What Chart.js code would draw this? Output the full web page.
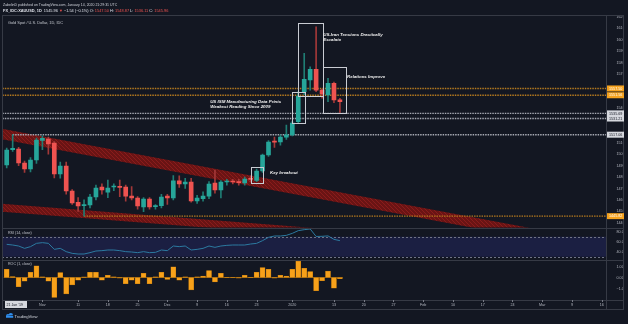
<!DOCTYPE html>
<html>
<head>
<meta charset="utf-8">
<script src="https://cdn.jsdelivr.net/npm/chart.js@4.4.1/dist/chart.umd.min.js"></script>
<style>
  html, body { margin: 0; padding: 0; background: #131722; }
  #wrap { position: relative; width: 628px; height: 324px; overflow: hidden; }
  canvas { display: block; }
</style>
</head>
<body>
<div id="wrap"><canvas id="c" width="628" height="324"></canvas></div>
<script>
// ---- daily sessions (bar index = position in this list) ----
const sessions = ['Oct 24','Oct 25','Oct 28','Oct 29','Oct 30','Oct 31','Nov 1','Nov 4','Nov 5','Nov 6',
  'Nov 7','Nov 8','Nov 11','Nov 12','Nov 13','Nov 14','Nov 15','Nov 18','Nov 19','Nov 20',
  'Nov 21','Nov 22','Nov 25','Nov 26','Nov 27','Nov 28','Nov 29','Dec 2','Dec 3','Dec 4',
  'Dec 5','Dec 6','Dec 9','Dec 10','Dec 11','Dec 12','Dec 13','Dec 16','Dec 17','Dec 18',
  'Dec 19','Dec 20','Dec 23','Dec 24','Dec 26','Dec 27','Dec 30','Dec 31','Jan 2','Jan 3',
  'Jan 6','Jan 7','Jan 8','Jan 9','Jan 10','Jan 13','Jan 14'];

// ---- XAU/USD daily OHLC ----
const opens  = [1490.6,1504.0,1504.5,1492.3,1487.1,1494.9,1512.0,1513.3,1509.8,1482.7,
  1489.7,1467.8,1458.0,1455.0,1455.6,1462.6,1471.3,1466.9,1471.3,1472.0,
  1471.3,1463.4,1461.7,1453.8,1460.8,1454.0,1455.0,1463.4,1461.7,1476.6,
  1474.0,1475.7,1459.1,1461.0,1463.4,1474.8,1468.7,1475.7,1476.0,1476.0,
  1474.8,1479.0,1477.0,1485.3,1499.3,1511.5,1510.7,1515.0,1516.8,1528.4,
  1554.7,1564.9,1574.3,1556.1,1551.8,1562.0,1547.50];
const highs  = [1505.4,1517.06,1506.0,1494.0,1497.0,1514.0,1516.0,1515.0,1511.0,1493.2,
  1493.0,1469.0,1462.0,1460.0,1465.0,1473.0,1474.0,1477.4,1474.0,1477.4,
  1473.0,1471.6,1463.0,1462.0,1462.0,1456.0,1465.0,1465.0,1481.2,1481.0,
  1479.0,1479.0,1464.0,1467.0,1476.0,1486.2,1477.0,1478.0,1478.0,1478.0,
  1480.0,1481.0,1487.0,1500.0,1512.0,1515.0,1517.0,1525.5,1529.0,1554.7,
  1588.3,1576.5,1611.5,1557.0,1566.4,1563.0,1548.87];
const lows   = [1488.0,1502.5,1490.0,1484.0,1484.5,1492.0,1504.0,1500.0,1479.2,1479.0,
  1465.0,1456.0,1450.0,1445.82,1453.0,1460.0,1465.0,1462.0,1468.0,1462.8,
  1459.0,1460.0,1452.0,1449.7,1452.0,1452.0,1453.0,1456.0,1460.0,1471.0,
  1470.0,1458.0,1457.0,1459.0,1461.0,1466.0,1461.7,1473.0,1474.0,1473.0,
  1473.0,1476.0,1476.0,1484.0,1498.0,1506.0,1508.0,1513.0,1516.0,1527.0,
  1552.0,1556.1,1554.7,1549.0,1545.9,1545.0,1536.11];
const closes = [1503.7,1505.2,1492.3,1487.1,1494.9,1512.4,1513.8,1508.9,1482.7,1489.7,
  1467.8,1457.3,1454.7,1455.8,1462.6,1470.4,1468.7,1470.4,1471.8,1471.0,
  1463.4,1461.7,1454.7,1460.8,1453.8,1455.0,1462.6,1461.7,1476.6,1473.9,
  1475.7,1459.1,1461.7,1463.4,1473.9,1468.7,1475.7,1476.3,1475.7,1475.0,
  1478.3,1478.0,1485.3,1499.3,1510.7,1510.5,1515.0,1517.0,1527.3,1550.9,
  1565.5,1574.3,1556.1,1552.7,1562.0,1547.50,1545.96];

// ---- RSI (14, close) ----
const rsi = [54.7,53.4,51.4,46.7,50.1,56.7,58.1,56.7,44.7,46.7,
  40.1,36.7,35.4,35.4,38.1,41.4,42.1,43.4,43.4,42.1,
  40.1,39.4,38.1,40.1,38.1,38.7,43.4,42.1,51.4,50.1,
  51.4,43.4,44.7,46.7,51.4,48.7,51.4,52.7,53.4,53.4,
  53.4,55.4,56.7,62.1,68.7,71.4,71.4,72.7,76.7,82.1,
  84.0,85.5,70.5,70.8,71.6,64.7,62.1];

// ---- ROC (1, close), percent ----
const roc = [0.75,0.08,-0.84,-0.33,0.47,1.07,0.06,-0.33,-1.8,0.44,
  -1.5,-0.68,-0.24,0.05,0.47,0.47,-0.24,0.2,0.06,-0.05,
  -0.55,-0.24,-0.55,0.37,-0.55,0.06,0.47,-0.18,0.98,-0.24,
  0.06,-1.14,0.06,0.12,0.62,-0.4,0.37,0.02,0.02,-0.05,
  0.2,0.02,0.47,0.9,0.75,-0.05,0.2,0.12,0.75,1.5,
  0.83,0.53,-1.2,-0.29,0.59,-0.98,-0.1];

// ---- axis ticks ----
const dateTickIndex = [6,12,17,22,27,32,37,42,48,55,60,65,70,75,80,85,90,95,100];
const dateTickText  = ['Nov','11','18','25','Dec','9','16','23','2020','13','20','27','Feb','10','17','24','Mar','9','16'];
const priceTicks = [1620,1610,1600,1590,1580,1570,1540,1510,1500,1490,1480,1470,1460,1450,1440];
const rsiTicks = [80,60,40];
const rocTicks = [1,0,-1];

// ---- horizontal levels: price, first bar, style ----
const levelPrices = [1557.50, 1551.56, 1535.69, 1531.21, 1517.06, 1445.82];
const levelStart  = [-2, -2, -2, -2, 1, 13];
const levelKind   = ['orange','orange','grey','grey','grey','orange'];

// ---- descending channel bands: [bar, price] at both ends of the top edge, band depth in price ----
const channelTop = [[[-2, 1523.5], [101, 1422.7]], [[-2, 1457.2], [101, 1415.5]]];
const channelDepth = [9.2, 7.0];

// ---- event boxes: bar range and price range ----
const boxBars   = [[41.05, 43.15], [48.0, 50.1], [49.0, 53.1], [53.1, 57.1]];
const boxPrices = [[1474.5, 1488.5], [1527.5, 1554.4], [1550.9, 1615.0], [1535.8, 1576.0]];

// ---- event notes: anchor bar, anchor price, lines ----
const noteBars   = [44.25, 34.2, 53.2, 57.2];
const notePrices = [1484.0, 1545.9, 1604.3, 1567.3];
const noteLines  = [['Key breakout'],
  ['US ISM Manufacturing Data Prints', 'Weakest Reading Since 2009'],
  ['US-Iran Tensions Drastically', 'Escalate'],
  ['Relations Improve']];

const FONT = '"Liberation Sans", Arial, sans-serif';
const UP = '#26a69a', DOWN = '#ef5350', UP_WICK = '#1f7d74', DOWN_WICK = '#a33838';
const TXT = '#b2b5be', FRAME = '#363a45';
const isUp = i => closes[i] >= opens[i];

// diagonal hatch used by the channel bands
function makeHatch() {
  const c = document.createElement('canvas');
  c.width = 4; c.height = 4;
  const g = c.getContext('2d');
  g.fillStyle = '#6a1414'; g.fillRect(0, 0, 4, 4);
  g.strokeStyle = '#8a1c1c'; g.lineWidth = 1;
  g.beginPath(); g.moveTo(0, 0); g.lineTo(4, 4); g.moveTo(-1, 3); g.lineTo(1, 5); g.moveTo(3, -1); g.lineTo(5, 1); g.stroke();
  return document.getElementById('c').getContext('2d').createPattern(c, 'repeat');
}
const hatch = makeHatch();
function fmt(v) { return v.toFixed(2).replace('-', '\u2212'); }

const overlay = {
  id: 'overlay',
  beforeDatasetsDraw(chart) {
    const { ctx, scales: { x, yP, yR } } = chart;
    // RSI 70/30 band
    const b70 = yR.getPixelForValue(70), b30 = yR.getPixelForValue(30);
    ctx.save();
    ctx.fillStyle = '#1b1f42';
    ctx.fillRect(x.left, b70, x.right - x.left, b30 - b70);
    ctx.strokeStyle = '#6f7385'; ctx.lineWidth = 1; ctx.setLineDash([2, 2]);
    [b70, b30].forEach(y => { ctx.beginPath(); ctx.moveTo(x.left, Math.round(y) + 0.5); ctx.lineTo(x.right, Math.round(y) + 0.5); ctx.stroke(); });
    ctx.restore();

    // price pane: channel bands and horizontal levels
    ctx.save();
    ctx.beginPath(); ctx.rect(x.left, yP.top, x.right - x.left, yP.bottom - yP.top); ctx.clip();
    channelTop.forEach((seg, k) => {
      const [[i0, p0], [i1, p1]] = seg;
      const d = channelDepth[k];
      ctx.beginPath();
      ctx.moveTo(x.getPixelForValue(i0), yP.getPixelForValue(p0));
      ctx.lineTo(x.getPixelForValue(i1), yP.getPixelForValue(p1));
      ctx.lineTo(x.getPixelForValue(i1), yP.getPixelForValue(p1 - d));
      ctx.lineTo(x.getPixelForValue(i0), yP.getPixelForValue(p0 - d));
      ctx.closePath();
      ctx.fillStyle = hatch; ctx.fill();
    });
    levelPrices.forEach((p, k) => {
      const y = yP.getPixelForValue(p);
      ctx.strokeStyle = levelKind[k] === 'orange' ? '#b57a1e' : '#a7aab3';
      ctx.lineWidth = 1.4; ctx.setLineDash([1.5, 1]);
      ctx.beginPath(); ctx.moveTo(x.getPixelForValue(levelStart[k]), y); ctx.lineTo(x.right, y); ctx.stroke();
    });
    ctx.restore();
  },
  afterDatasetsDraw(chart) {
    const { ctx, scales: { x, yP } } = chart;
    ctx.save();
    ctx.beginPath(); ctx.rect(x.left, yP.top, x.right - x.left, yP.bottom - yP.top); ctx.clip();
    ctx.strokeStyle = '#c9ccd3'; ctx.lineWidth = 1;
    boxBars.forEach((bb, k) => {
      const x0 = Math.round(x.getPixelForValue(bb[0])) + 0.5, x1 = Math.round(x.getPixelForValue(bb[1])) + 0.5;
      const y0 = Math.round(yP.getPixelForValue(boxPrices[k][1])) + 0.5, y1 = Math.round(yP.getPixelForValue(boxPrices[k][0])) + 0.5;
      ctx.strokeRect(x0, y0, x1 - x0, y1 - y0);
    });
    ctx.fillStyle = '#eeeeee';
    ctx.font = 'italic bold 4.4px ' + FONT;
    ctx.textBaseline = 'middle'; ctx.textAlign = 'left';
    noteLines.forEach((lines, k) => {
      const nx = x.getPixelForValue(noteBars[k]), ny = yP.getPixelForValue(notePrices[k]);
      lines.forEach((t, j) => ctx.fillText(t, nx, ny + j * 4.6));
    });
    ctx.restore();
  },
  afterDraw(chart) {
    const { ctx, scales: { x, yP, yR, yC } } = chart;
    ctx.save();
    // frame and pane dividers
    ctx.strokeStyle = FRAME; ctx.lineWidth = 1;
    ctx.strokeRect(2.5, 15.5, 621, 294);
    [yP.bottom, yR.bottom, yC.bottom].forEach(y => { ctx.beginPath(); ctx.moveTo(2, Math.round(y) + 0.5); ctx.lineTo(624, Math.round(y) + 0.5); ctx.stroke(); });
    ctx.beginPath(); ctx.moveTo(Math.round(x.right) + 0.5, 15); ctx.lineTo(Math.round(x.right) + 0.5, 310); ctx.stroke();

    // time scale: tick marks and labels
    ctx.strokeStyle = '#787b86';
    ctx.fillStyle = TXT; ctx.font = '3.7px ' + FONT;
    ctx.textAlign = 'center'; ctx.textBaseline = 'middle';
    dateTickIndex.forEach((i, k) => {
      const px = x.getPixelForValue(i);
      const sx = Math.round(px) + 0.5;
      ctx.beginPath(); ctx.moveTo(sx, yC.bottom + 0.5); ctx.lineTo(sx, yC.bottom + 2.5); ctx.stroke();
      ctx.fillText(dateTickText[k], px, yC.bottom + 5.2);
    });

    // level labels on the price scale
    ctx.font = '3.7px ' + FONT; ctx.textBaseline = 'middle'; ctx.textAlign = 'left';
    levelPrices.forEach((p, k) => {
      const y = yP.getPixelForValue(p);
      const orange = levelKind[k] === 'orange';
      ctx.fillStyle = orange ? '#f5a21e' : '#d6d8de';
      ctx.fillRect(x.right + 1, y - 3, 17, 6);
      ctx.fillStyle = orange ? '#ffffff' : '#131722';
      ctx.fillText(fmt(p), x.right + 3, y + 0.2);
    });

    // pane captions
    ctx.fillStyle = '#c3c6ce';
    ctx.font = '3.9px ' + FONT;
    ctx.fillText('Gold Spot / U.S. Dollar, 1D, IDC', 8, 23);
    ctx.font = '3.6px ' + FONT;
    ctx.fillText('RSI (14, close)', 8, yR.top + 5.5);
    ctx.fillText('ROC (1, close)', 8, yC.top + 4.5);

    // header
    const last = closes.length - 1;
    const chg = closes[last] - closes[last - 1];
    const pct = chg / closes[last - 1] * 100;
    ctx.fillStyle = '#d1d4dc';
    ctx.font = '3.5px ' + FONT;
    ctx.fillText('ZabelinD published on TradingView.com, January 14, 2020 21:29:31 UTC', 3, 5);
    const parts = [
      ['FX_IDC:XAUUSD, 1D  ', '#e0e3eb', 'bold '],
      [closes[last].toFixed(2) + ' ', '#e0e3eb', ''],
      [chg < 0 ? '\u25BC ' : '\u25B2 ', chg < 0 ? DOWN : UP, ''],
      [fmt(chg) + ' (' + fmt(pct).replace(/(\.\d)\d$/, '$1') + '%) ', '#e0e3eb', ''],
      ['O: ', '#e0e3eb', ''], [opens[last].toFixed(2) + ' ', DOWN, ''],
      ['H: ', '#e0e3eb', ''], [highs[last].toFixed(2) + ' ', DOWN, ''],
      ['L: ', '#e0e3eb', ''], [lows[last].toFixed(2) + ' ', DOWN, ''],
      ['C: ', '#e0e3eb', ''], [closes[last].toFixed(2), DOWN, '']
    ];
    let hx = 3;
    parts.forEach(([t, c, w]) => {
      ctx.font = w + '3.9px ' + FONT; ctx.fillStyle = c;
      ctx.fillText(t, hx, 10.8); hx += ctx.measureText(t).width;
    });

    // crosshair date box on the time scale
    ctx.fillStyle = '#d6d8de';
    ctx.fillRect(5, yC.bottom + 1.5, 22, 7);
    ctx.fillStyle = '#131722'; ctx.font = '3.6px ' + FONT;
    ctx.fillText("21 Jan '19", 6.5, yC.bottom + 5.2);

    // footer logo
    ctx.fillStyle = '#2f8ff0';
    ctx.beginPath(); ctx.arc(8, 316, 2, Math.PI, 0); ctx.arc(10.8, 315.2, 2.2, Math.PI, 0); ctx.rect(6, 316, 7.2, 1.8); ctx.fill();
    ctx.fillStyle = '#d1d4dc'; ctx.font = '4.2px ' + FONT;
    ctx.fillText('TradingView', 14.5, 316.5);
    ctx.restore();
  }
};

const idx = sessions.map((_, i) => i);
const axisFont = { family: FONT, size: 3.7 };

new Chart(document.getElementById('c'), {
  data: {
    datasets: [
      { type: 'bar', label: 'body', xAxisID: 'x', yAxisID: 'yP', order: 0, grouped: false,
        data: idx.map(i => ({ x: i, y: [opens[i], closes[i]] })),
        backgroundColor: idx.map(i => isUp(i) ? UP : DOWN), barThickness: 4, minBarLength: 1, borderWidth: 0 },
      { type: 'bar', label: 'wick', xAxisID: 'x', yAxisID: 'yP', order: 1, grouped: false,
        data: idx.map(i => ({ x: i, y: [lows[i], highs[i]] })),
        backgroundColor: idx.map(i => isUp(i) ? UP_WICK : DOWN_WICK), barThickness: 1, borderWidth: 0 },
      { type: 'line', label: 'RSI', xAxisID: 'x', yAxisID: 'yR', order: 2,
        data: idx.map(i => ({ x: i, y: rsi[i] })),
        borderColor: '#2c7aa0', borderWidth: 1, pointRadius: 0, tension: 0, fill: false },
      { type: 'bar', label: 'ROC', xAxisID: 'x', yAxisID: 'yC', order: 3, grouped: false,
        data: idx.map(i => ({ x: i, y: roc[i] })),
        backgroundColor: '#f7a11a', borderColor: '#c27a0e', borderWidth: 0.5, barThickness: 5 },
      { type: 'line', label: 'ROC base', xAxisID: 'x', yAxisID: 'yC', order: 4,
        data: [{ x: -0.5, y: 0 }, { x: idx.length - 0.5, y: 0 }],
        borderColor: '#8a5c16', borderWidth: 1, pointRadius: 0, fill: false }
    ]
  },
  options: {
    responsive: false, animation: false, devicePixelRatio: 1,
    layout: { padding: { left: 2, top: 15, right: 4, bottom: 14 } },
    plugins: { legend: { display: false }, tooltip: { enabled: false } },
    scales: {
      x: {
        type: 'linear', position: 'bottom', min: -0.79, max: 100.72, offset: false,
        grid: { display: false }, border: { display: false },
        afterFit: s => { s.height = 10.5; },
        afterBuildTicks: s => { s.ticks = dateTickIndex.map(v => ({ value: v })); },
        ticks: { display: false }
      },
      yP: {
        type: 'linear', position: 'right', stack: 'panes', stackWeight: 212.5, min: 1435.89, max: 1621.75,
        grid: { display: false }, border: { display: false },
        afterFit: s => { s.width = 18; },
        afterBuildTicks: s => { s.ticks = priceTicks.map(v => ({ value: v })); },
        ticks: { autoSkip: false, padding: 2.5, color: TXT, font: axisFont, callback: v => fmt(v) }
      },
      yR: {
        type: 'linear', position: 'right', stack: 'panes', stackWeight: 32, min: 24.4, max: 88.4,
        grid: { display: false }, border: { display: false },
        afterFit: s => { s.width = 18; },
        afterBuildTicks: s => { s.ticks = rsiTicks.map(v => ({ value: v })); },
        ticks: { autoSkip: false, padding: 2.5, color: TXT, font: axisFont, callback: v => fmt(v) }
      },
      yC: {
        type: 'linear', position: 'right', stack: 'panes', stackWeight: 40, min: -2.0, max: 1.636,
        grid: { display: false }, border: { display: false },
        afterFit: s => { s.width = 18; },
        afterBuildTicks: s => { s.ticks = rocTicks.map(v => ({ value: v })); },
        ticks: { autoSkip: false, padding: 2.5, color: TXT, font: axisFont, callback: v => fmt(v) }
      }
    }
  },
  plugins: [overlay]
});
</script>
</body>
</html>
